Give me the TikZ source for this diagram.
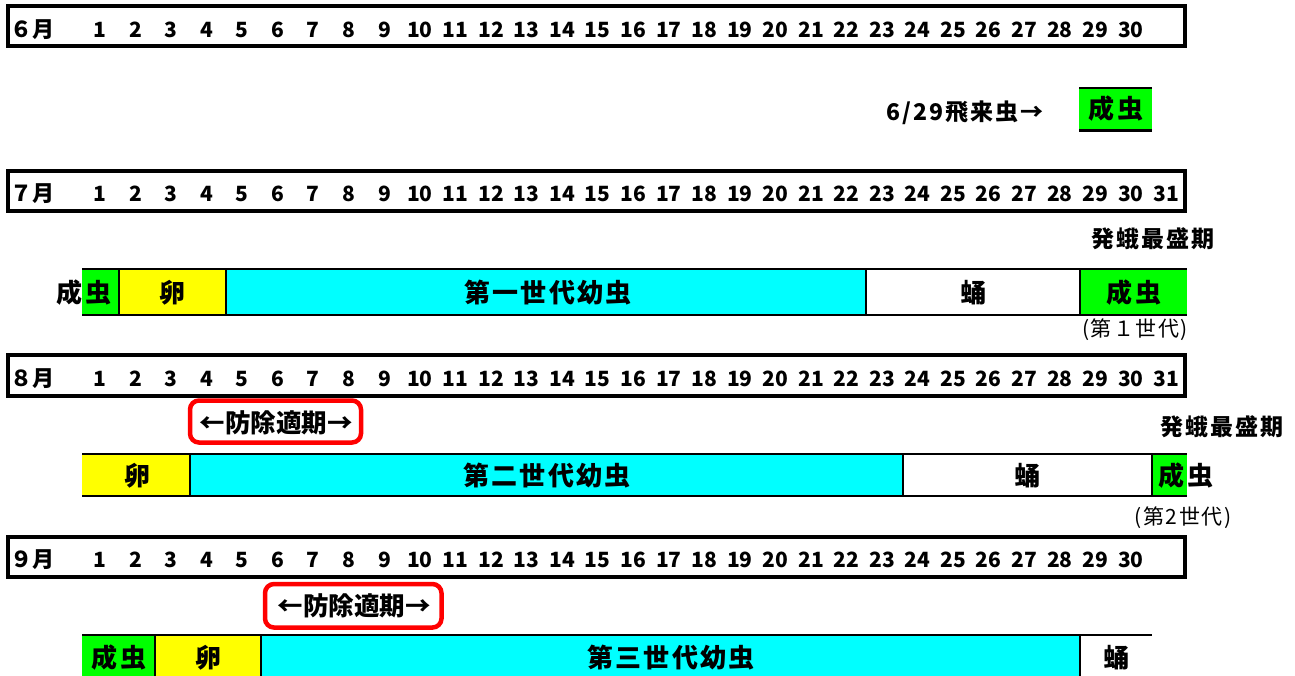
\documentclass[tikz,border=0pt]{standalone}
\usepackage{fontspec}
\setmainfont{Noto Sans CJK JP}
\definecolor{cgreen}{HTML}{00FF00}
\definecolor{cyellow}{HTML}{FFFF00}
\definecolor{ccyan}{HTML}{00FFFF}
\definecolor{cred}{HTML}{FF0000}
\tikzset{
  monthbar/.style={draw=black, line width=4pt, inner sep=0pt, outer sep=0pt, anchor=north west},
  daynum/.style={font=\fontsize{21}{24}\selectfont\bfseries, anchor=base, inner sep=0pt},
  mon/.style={font=\fontsize{22}{24}\selectfont\bfseries, anchor=base west, inner sep=0pt},
  cell/.style={draw=none, inner sep=0pt, outer sep=0pt, anchor=north west},
  lbl/.style={font=\fontsize{26}{30}\selectfont\bfseries\addfontfeature{LetterSpace=8}, inner sep=0pt},
  ctrl/.style={font=\fontsize{25.5}{30}\selectfont\bfseries, inner sep=0pt},
  note/.style={font=\fontsize{23}{26}\selectfont\bfseries\addfontfeature{LetterSpace=9}, inner sep=0pt},
  gen/.style={font=\fontsize{21}{24}\selectfont\addfontfeature{LetterSpace=7}, inner sep=0pt},
  redbox/.style={draw=cred, line width=4.5pt, rounded corners=9pt, inner sep=0pt, outer sep=0pt, anchor=north west},
  edgeline/.style={line width=2.6pt},
  sepline/.style={line width=1.8pt},
}
\begin{document}
\begin{tikzpicture}[x=1pt, y=-1pt]
\useasboundingbox (0,0) rectangle (1295,675);

% ---------- month bars ----------
\node[monthbar, minimum width=1177.5pt, minimum height=40pt] (m6) at (7.5,6) {};
\node[monthbar, minimum width=1177.5pt, minimum height=40pt] (m7) at (7.5,171) {};
\node[monthbar, minimum width=1177.5pt, minimum height=40.5pt] (m8) at (7.5,355) {};
\node[monthbar, minimum width=1177.5pt, minimum height=40.5pt] (m9) at (7.5,536.5) {};

\node[mon] (l6) at (10,37) {６月};
\node[mon] (l7) at (10,201.5) {７月};
\node[mon] (l8) at (10,386) {８月};
\node[mon] (l9) at (10,567.5) {９月};

\foreach \d in {1,...,30} \node[daynum] (d6-\d) at ({100+35.55*(\d-1)},37) {\d};
\foreach \d in {1,...,31} \node[daynum] (d7-\d) at ({100+35.55*(\d-1)},201.5) {\d};
\foreach \d in {1,...,31} \node[daynum] (d8-\d) at ({100+35.55*(\d-1)},386) {\d};
\foreach \d in {1,...,30} \node[daynum] (d9-\d) at ({100+35.55*(\d-1)},567.5) {\d};

% ---------- June arrival ----------
\node[note] (arr) at (965,113) {6/29飛来虫→};
\node[cell, fill=cgreen, minimum width=73pt, minimum height=42pt] (j1) at (1079,88) {};
\draw[line width=2.2pt] (j1.north west) -- (j1.north east);
\draw[line width=3pt] (j1.south west) -- (j1.south east);
\node[lbl] (j1t) at (1116,109) {成虫};

% ---------- July row ----------
\node[note] (p1) at (1153,239) {発蛾最盛期};
\node[cell, fill=cgreen,  minimum width=37pt,  minimum height=46pt] (r1a) at (82,269) {};
\node[cell, fill=cyellow, minimum width=107pt, minimum height=46pt] (r1b) at (119,269) {};
\node[cell, fill=ccyan,   minimum width=640pt, minimum height=46pt] (r1c) at (226,269) {};
\node[cell, fill=white,   minimum width=214pt, minimum height=46pt] (r1d) at (866,269) {};
\node[cell, fill=cgreen,  minimum width=107pt, minimum height=46pt] (r1e) at (1080,269) {};
\draw[edgeline] (r1a.north west) -- (r1e.north east);
\draw[edgeline] (r1a.south west) -- (r1e.south east);
\foreach \c in {r1a,r1b,r1c,r1d} \draw[sepline] (\c.north east) -- (\c.south east);
\node[lbl] (r1at) at (84,293) {成虫};
\node[lbl] (r1bt) at (172,293) {卵};
\node[lbl] (r1ct) at (548,293) {第一世代幼虫};
\node[lbl] (r1dt) at (973,293) {蛹};
\node[lbl] (r1et) at (1134,293) {成虫};
\node[gen] (g1) at (1135,330) {(第１世代)};

% ---------- August row ----------
\node[redbox, minimum width=171pt, minimum height=42pt] (b2) at (190,400.5) {};
\node[ctrl] (b2t) at (276,423) {←防除適期→};
\node[note] (p2) at (1222,427) {発蛾最盛期};
\node[cell, fill=cyellow, minimum width=108pt, minimum height=42pt] (r2a) at (82,454) {};
\node[cell, fill=ccyan,   minimum width=713pt, minimum height=42pt] (r2b) at (190,454) {};
\node[cell, fill=white,   minimum width=249pt, minimum height=42pt] (r2c) at (903,454) {};
\node[cell, fill=cgreen,  minimum width=35pt,  minimum height=42pt] (r2d) at (1152,454) {};
\draw[edgeline] (r2a.north west) -- (r2d.north east);
\draw[edgeline] (r2a.south west) -- (r2d.south east);
\foreach \c in {r2a,r2b,r2c} \draw[sepline] (\c.north east) -- (\c.south east);
\node[lbl] (r2at) at (137,476) {卵};
\node[lbl] (r2bt) at (547,476) {第二世代幼虫};
\node[lbl] (r2ct) at (1027,476) {蛹};
\node[lbl] (r2dt) at (1186,476) {成虫};
\node[gen] (g2) at (1183,518) {(第2世代)};

% ---------- September row ----------
\node[redbox, minimum width=176.5pt, minimum height=43.5pt] (b3) at (265,584) {};
\node[ctrl] (b3t) at (354,606) {←防除適期→};
\node[cell, fill=cgreen,  minimum width=73pt,  minimum height=45pt] (r3a) at (82,635) {};
\node[cell, fill=cyellow, minimum width=106pt, minimum height=45pt] (r3b) at (155,635) {};
\node[cell, fill=ccyan,   minimum width=819pt, minimum height=45pt] (r3c) at (261,635) {};
\node[cell, fill=white,   minimum width=72pt,  minimum height=45pt] (r3d) at (1080,635) {};
\draw[edgeline] (r3a.north west) -- (r3d.north east);
\foreach \c in {r3a,r3b,r3c} \draw[sepline] (\c.north east) -- (\c.south east);
\node[lbl] (r3at) at (119,658) {成虫};
\node[lbl] (r3bt) at (208,658) {卵};
\node[lbl] (r3ct) at (671,658) {第三世代幼虫};
\node[lbl] (r3dt) at (1116,658) {蛹};
\end{tikzpicture}
\end{document}
